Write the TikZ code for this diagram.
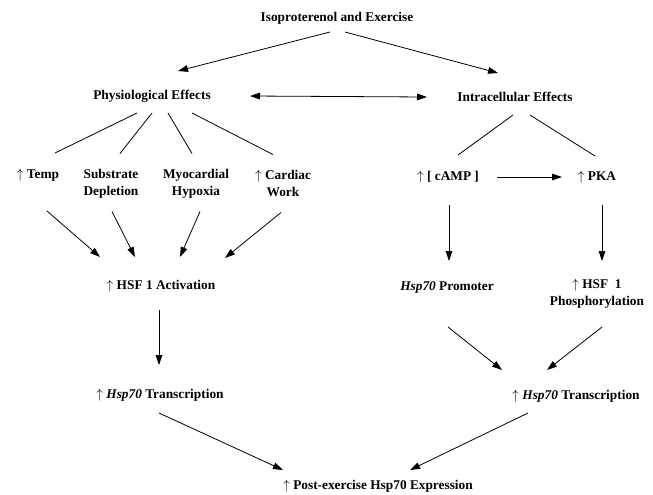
\documentclass[tikz,border=0pt]{standalone}
\usepackage{fontspec}
\setmainfont{Liberation Serif}
\usetikzlibrary{arrows.meta,calc}

\tikzset{every picture/.style={line width=0.6pt}}
\tikzset{
  lbl/.style={font=\fontsize{10}{12.75}\selectfont\bfseries, inner sep=0.75pt, align=center},
  arr/.style={-{Triangle[length=7.5pt,width=5pt]}},
  darr/.style={{Triangle[length=7.5pt,width=5pt]}-{Triangle[length=7.5pt,width=5pt]}}
}
\newcommand{\up}{$\uparrow$\ }

\begin{document}
\begin{tikzpicture}[x=0.75pt,y=0.75pt,yscale=-1,xscale=1]
\path[use as bounding box] (0,0) rectangle (653,494);

% Text Node
\draw (337,18) node (iso) [lbl] {Isoproterenol and Exercise};
% Text Node
\draw (152,96) node (phys) [lbl] {Physiological Effects};
% Text Node
\draw (515,97) node (intra) [lbl] {Intracellular Effects};
% Text Node
\draw (38,175) node (temp) [lbl] {\up Temp};
% Text Node
\draw (111,183.5) node (subs) [lbl] {Substrate\\Depletion};
% Text Node
\draw (196,183.5) node (myo) [lbl] {Myocardial\\Hypoxia};
% Text Node
\draw (283,183.5) node (card) [lbl] {\up Cardiac\\Work};
% Text Node
\draw (161,286) node (hsf) [lbl] {\up HSF 1 Activation};
% Text Node
\draw (160,395) node (tleft) [lbl] {\up \textit{Hsp70} Transcription};
% Text Node
\draw (448,177) node (camp) [lbl] {\up [ cAMP ]};
% Text Node
\draw (597,177) node (pka) [lbl] {\up PKA};
% Text Node
\draw (447,287) node (prom) [lbl] {\textit{Hsp70} Promoter};
% Text Node
\draw (597,294) node (hsfp) [lbl] {\up HSF\ \ 1\\Phosphorylation};
% Text Node
\draw (576,396) node (tright) [lbl] {\up \textit{Hsp70} Transcription};
% Text Node
\draw (378,486) node (post) [lbl] {\up Post-exercise Hsp70 Expression};

%Straight Lines
\draw [arr] ($(iso)+(-7,14)$) -- ($(phys)+(26,-25)$);
\draw [arr] ($(iso)+(8,14)$) -- ($(intra)+(-17,-24)$);
\draw [darr] ($(phys)+(98,0)$) -- ($(intra)+(-88,0)$);

%Straight Lines
\draw ($(phys)+(-15,17)$) -- ($(temp)+(17,-22)$);
\draw ($(phys)+(0,17)$) -- ($(subs)+(9,-30)$);
\draw ($(phys)+(16,17)$) -- ($(myo)+(-4,-30)$);
\draw ($(phys)+(40,17)$) -- ($(card)+(-10,-29)$);

%Straight Lines
\draw [arr] ($(temp)+(9,36)$) -- ($(hsf)+(-61,-29)$);
\draw [arr] ($(subs)+(1,28)$) -- ($(hsf)+(-26,-29)$);
\draw [arr] ($(myo)+(4,28)$) -- ($(hsf)+(19,-29)$);
\draw [arr] ($(card)+(-2,29)$) -- ($(hsf)+(64,-28)$);
\draw [arr] ($(hsf)+(-2,24)$) -- ($(tleft)+(-1,-30)$);
\draw [arr] ($(tleft)+(-1,18)$) -- ($(post)+(-95,-16)$);

%Straight Lines
\draw ($(intra)+(-2,18)$) -- ($(camp)+(10,-22)$);
\draw ($(intra)+(15,18)$) -- ($(pka)+(-2,-21)$);
\draw [arr] ($(camp)+(49,0)$) -- ($(pka)+(-35,0)$);
\draw [arr] ($(camp)+(1,28)$) -- ($(prom)+(2,-26)$);
\draw [arr] ($(pka)+(5,28)$) -- ($(hsfp)+(5,-33)$);
\draw [arr] ($(prom)+(1,40)$) -- ($(tright)+(-74,-26)$);
\draw [arr] ($(hsfp)+(5,33)$) -- ($(tright)+(-29,-26)$);
\draw [arr] ($(tright)+(-48,17)$) -- ($(post)+(32,-16)$);

\end{tikzpicture}
\end{document}
